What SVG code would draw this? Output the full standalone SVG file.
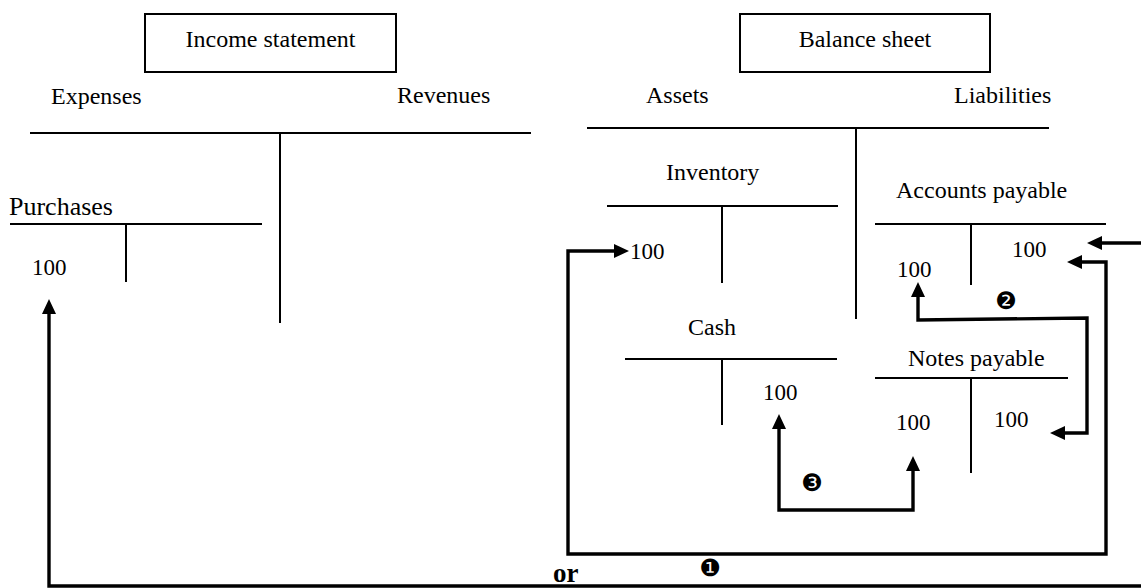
<svg xmlns="http://www.w3.org/2000/svg" width="1141" height="588" viewBox="0 0 1141 588">
<style>
  .lbl { font-family: "Liberation Serif", "Times New Roman", serif; font-size: 24px; fill: #000; }
  .num { font-family: "Liberation Serif", "Times New Roman", serif; font-size: 23px; fill: #000; }
  .big { font-family: "Liberation Serif", "Times New Roman", serif; font-size: 26px; fill: #000; }
  .or { font-family: "Liberation Serif", "Times New Roman", serif; font-size: 27px; font-weight: bold; fill: #000; }
  .step { font-family: "DejaVu Sans", sans-serif; font-size: 24px; fill: #000; text-anchor: middle; }
  .box { fill: #fff; stroke: #000; stroke-width: 2; }
  .t { stroke: #000; stroke-width: 2; fill: none; }
  .conn { stroke: #000; stroke-width: 3.4; fill: none; stroke-linejoin: miter; marker-end: url(#ah); }
</style>
<defs>
  <marker id="ah" markerUnits="userSpaceOnUse" markerWidth="16" markerHeight="14" refX="4" refY="7" orient="auto-start-reverse">
    <path d="M0,0 L15,7 L0,14 z" fill="#000"/>
  </marker>
</defs>
<rect width="1141" height="588" fill="#fff"/>

<g id="income-statement">
  <rect class="box" x="145" y="14" width="251" height="58"/>
  <text class="lbl" x="270.5" y="47" text-anchor="middle">Income statement</text>
  <text class="lbl" x="51" y="104">Expenses</text>
  <text class="lbl" x="397" y="103">Revenues</text>
  <line class="t" x1="30" y1="133" x2="531" y2="133"/>
  <line class="t" x1="280" y1="133" x2="280" y2="323"/>
</g>

<g id="purchases">
  <text class="big" x="9" y="215">Purchases</text>
  <line class="t" x1="10" y1="224" x2="262" y2="224"/>
  <line class="t" x1="126" y1="224" x2="126" y2="282"/>
  <text class="num" x="32" y="275">100</text>
</g>

<g id="balance-sheet">
  <rect class="box" x="740" y="14" width="250" height="58"/>
  <text class="lbl" x="865" y="47" text-anchor="middle">Balance sheet</text>
  <text class="lbl" x="646" y="103">Assets</text>
  <text class="lbl" x="954" y="103">Liabilities</text>
  <line class="t" x1="587" y1="128" x2="1049" y2="128"/>
  <line class="t" x1="856" y1="128" x2="856" y2="319"/>
</g>

<g id="inventory">
  <text class="lbl" x="666" y="180">Inventory</text>
  <line class="t" x1="607" y1="206" x2="838" y2="206"/>
  <line class="t" x1="722" y1="206" x2="722" y2="283"/>
  <text class="num" x="630" y="259">100</text>
</g>

<g id="accounts-payable">
  <text class="lbl" x="896" y="198">Accounts payable</text>
  <line class="t" x1="875" y1="224" x2="1106" y2="224"/>
  <line class="t" x1="971" y1="224" x2="971" y2="285"/>
  <text class="num" x="897" y="277">100</text>
  <text class="num" x="1012" y="257">100</text>
</g>

<g id="cash">
  <text class="lbl" x="688" y="335">Cash</text>
  <line class="t" x1="625" y1="359" x2="837" y2="359"/>
  <line class="t" x1="722" y1="359" x2="722" y2="425"/>
  <text class="num" x="763" y="400">100</text>
</g>

<g id="notes-payable">
  <text class="lbl" x="908" y="366">Notes payable</text>
  <line class="t" x1="875" y1="378" x2="1068" y2="378"/>
  <line class="t" x1="971" y1="378" x2="971" y2="473"/>
  <text class="num" x="896" y="430">100</text>
  <text class="num" x="994" y="427">100</text>
</g>

<g id="connectors">
  <path class="conn" style="marker-start:url(#ah)" d="M618,251 L568,251 L568,554 L1106,554 L1106,262 L1078,262"/>
  <path class="conn" d="M1141,243 L1098,243"/>
  <path class="conn" d="M1141,586 L49,586 L49,310"/>
  <path class="conn" style="marker-start:url(#ah)" d="M918,293 L918,320 L1087,318 L1087,433 L1061,433"/>
  <path class="conn" style="marker-start:url(#ah)" d="M779,425 L779,510 L913,510 L913,467"/>
</g>

<g id="labels">
  <text class="or" x="553" y="582">or</text>
  <text class="step" x="710" y="576">❶</text>
  <text class="step" x="1006" y="309">❷</text>
  <text class="step" x="812" y="491">❸</text>
</g>
</svg>
